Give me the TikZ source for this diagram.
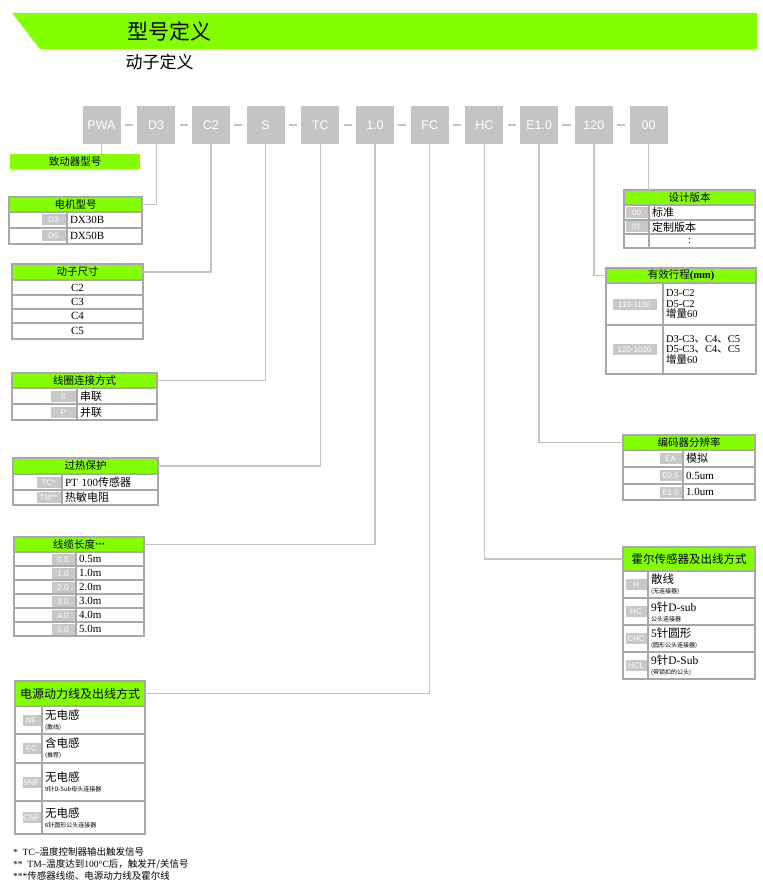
\documentclass[tikz,border=0pt]{standalone}
\usepackage{fontspec}
\setmainfont{Liberation Serif}
\newfontfamily\cjk{Noto Sans CJK SC}
\newfontfamily\tagfont{Liberation Sans}
\usepackage{xcolor}
\usetikzlibrary{positioning}
\definecolor{hdrgreen}{HTML}{84FF00}
\definecolor{codegray}{HTML}{C4C4C4}
\definecolor{taggray}{HTML}{C8C8C8}
\definecolor{cellgray}{HTML}{A8A8A8}
\definecolor{leadgray}{HTML}{C4C4C4}
\newcommand{\zh}[1]{{\cjk #1}}
\newcommand{\codetag}[2][22pt]{{\setlength{\fboxsep}{0pt}\colorbox{taggray}{\makebox[#1]{\rule[-2.5pt]{0pt}{11pt}\tagfont\fontsize{8}{9}\selectfont\color{white}#2}}}}
\tikzset{
  codebox/.style={fill=codegray,minimum width=38pt,minimum height=38pt,inner sep=0pt,outer sep=0pt,text=white,font=\tagfont\fontsize{12.5}{14}\selectfont},
  link/.style={draw=leadgray,line width=1.5pt,shorten <=4.3pt,shorten >=4.3pt},
  lead/.style={draw=leadgray,line width=1.4pt},
  hdr/.style={draw=cellgray,fill=hdrgreen,line width=1.3pt,outer sep=0pt,inner sep=0pt,anchor=north west,font=\cjk\fontsize{10.5}{12}\selectfont},
  cell/.style={draw=cellgray,line width=1.3pt,outer sep=0pt,inner ysep=0pt,anchor=north west},
  codecell/.style={cell,fill=white,inner xsep=1.5pt,align=right},
  txtcell/.style={cell,inner xsep=3pt,align=left,font=\fontsize{11}{11}\selectfont},
  note/.style={anchor=west,inner sep=0pt,font=\fontsize{9.5}{10}\selectfont},
}
\begin{document}
\begin{tikzpicture}[x=1pt,y=-1pt,node distance=16.7pt]
  \useasboundingbox (0,0) rectangle (762,882);
  % title band
  \fill[hdrgreen] (12,13) -- (757,13) -- (757,49) -- (40,49) -- cycle;
  \node[anchor=west,font=\cjk\fontsize{21}{21}\selectfont] (title) at (124,31) {型号定义};
  \node[anchor=west,font=\cjk\fontsize{17}{17}\selectfont] (subtitle) at (122,62) {动子定义};
  % code row
  \node[codebox] (pwa) at (101.5,125) {PWA};
  \node[codebox,right=of pwa] (d3) {D3};
  \node[codebox,right=of d3] (c2) {C2};
  \node[codebox,right=of c2] (s) {S};
  \node[codebox,right=of s] (tc) {TC};
  \node[codebox,right=of tc] (len) {1.0};
  \node[codebox,right=of len] (fc) {FC};
  \node[codebox,right=of fc] (hc) {HC};
  \node[codebox,right=of hc] (enc) {E1.0};
  \node[codebox,right=of enc] (stroke) {120};
  \node[codebox,right=of stroke] (ver) {00};
  \draw[link] (pwa) -- (d3);
  \draw[link] (d3) -- (c2);
  \draw[link] (c2) -- (s);
  \draw[link] (s) -- (tc);
  \draw[link] (tc) -- (len);
  \draw[link] (len) -- (fc);
  \draw[link] (fc) -- (hc);
  \draw[link] (hc) -- (enc);
  \draw[link] (enc) -- (stroke);
  \draw[link] (stroke) -- (ver);
  % left tables
  \node[hdr,draw=none,minimum width=130pt,minimum height=15pt] (actuator) at (10,154) {致动器型号};
  \node[hdr,minimum width=133pt,minimum height=15pt] (motor) at (9,197) {电机型号};
  \node[codecell,text width=55pt,minimum height=16pt] (motorc1) at (motor.south west) {\codetag[24pt]{D3}};
  \node[txtcell,text width=69pt,minimum height=16pt] (motort1) at (motorc1.north east) {DX30B};
  \node[codecell,text width=55pt,minimum height=16pt] (motorc2) at (motorc1.south west) {\codetag[24pt]{D5}};
  \node[txtcell,text width=69pt,minimum height=16pt] (motort2) at (motorc2.north east) {DX50B};
  \node[hdr,minimum width=131pt,minimum height=16pt] (size) at (12,264) {动子尺寸};
  \node[txtcell,text width=125pt,align=center,minimum height=15pt] (size1) at (size.south west) {C2};
  \node[txtcell,text width=125pt,align=center,minimum height=14pt] (size2) at (size1.south west) {C3};
  \node[txtcell,text width=125pt,align=center,minimum height=14pt] (size3) at (size2.south west) {C4};
  \node[txtcell,text width=125pt,align=center,minimum height=16pt] (size4) at (size3.south west) {C5};
  \node[hdr,minimum width=145pt,minimum height=15pt] (coil) at (12,373) {线圈连接方式};
  \node[codecell,text width=62pt,minimum height=16pt] (coilc1) at (coil.south west) {\codetag[25pt]{S}};
  \node[txtcell,text width=74pt,minimum height=16pt] (coilt1) at (coilc1.north east) {\zh{串联}};
  \node[codecell,text width=62pt,minimum height=16pt] (coilc2) at (coilc1.south west) {\codetag[25pt]{P}};
  \node[txtcell,text width=74pt,minimum height=16pt] (coilt2) at (coilc2.north east) {\zh{并联}};
  \node[hdr,minimum width=145pt,minimum height=16pt] (heat) at (13,458) {过热保护};
  \node[codecell,text width=46pt,minimum height=16pt] (heatc1) at (heat.south west) {\codetag[24pt]{TC*}};
  \node[txtcell,text width=90pt,minimum height=16pt] (heatt1) at (heatc1.north east) {PT 100\zh{传感器}};
  \node[codecell,text width=46pt,minimum height=15pt] (heatc2) at (heatc1.south west) {\codetag[24pt]{TM**}};
  \node[txtcell,text width=90pt,minimum height=15pt] (heatt2) at (heatc2.north east) {\zh{热敏电阻}};
  \node[hdr,minimum width=130pt,minimum height=15pt] (cable) at (14,537) {线缆长度{\fontsize{7}{7}\selectfont ***}};
  \node[codecell,text width=59pt,minimum height=14pt] (cablec1) at (cable.south west) {\codetag[23pt]{0.5}};
  \node[txtcell,text width=62pt,minimum height=14pt] (cablet1) at (cablec1.north east) {0.5m};
  \node[codecell,text width=59pt,minimum height=14pt] (cablec2) at (cablec1.south west) {\codetag[23pt]{1.0}};
  \node[txtcell,text width=62pt,minimum height=14pt] (cablet2) at (cablec2.north east) {1.0m};
  \node[codecell,text width=59pt,minimum height=14pt] (cablec3) at (cablec2.south west) {\codetag[23pt]{2.0}};
  \node[txtcell,text width=62pt,minimum height=14pt] (cablet3) at (cablec3.north east) {2.0m};
  \node[codecell,text width=59pt,minimum height=14pt] (cablec4) at (cablec3.south west) {\codetag[23pt]{3.0}};
  \node[txtcell,text width=62pt,minimum height=14pt] (cablet4) at (cablec4.north east) {3.0m};
  \node[codecell,text width=59pt,minimum height=14pt] (cablec5) at (cablec4.south west) {\codetag[23pt]{4.0}};
  \node[txtcell,text width=62pt,minimum height=14pt] (cablet5) at (cablec5.north east) {4.0m};
  \node[codecell,text width=59pt,minimum height=14pt] (cablec6) at (cablec5.south west) {\codetag[23pt]{5.0}};
  \node[txtcell,text width=62pt,minimum height=14pt] (cablet6) at (cablec6.north east) {5.0m};
  \node[hdr,minimum width=130pt,minimum height=25pt,font=\cjk\fontsize{12}{12}\selectfont] (power) at (15,681) {电源动力线及出线方式};
  \node[codecell,text width=24pt,minimum height=28pt] (powerc1) at (power.south west) {\codetag[18pt]{NF}};
  \node[txtcell,text width=97pt,minimum height=28pt,font=\cjk\fontsize{10}{10}\selectfont] (powert1) at (powerc1.north east) {{\fontsize{11.5}{12}\selectfont 无电感}\\{\fontsize{6}{7}\selectfont (散线)}};
  \node[codecell,text width=24pt,minimum height=29pt] (powerc2) at (powerc1.south west) {\codetag[18pt]{FC}};
  \node[txtcell,text width=97pt,minimum height=29pt,font=\cjk\fontsize{10}{10}\selectfont] (powert2) at (powerc2.north east) {{\fontsize{11.5}{12}\selectfont 含电感}\\{\fontsize{6}{7}\selectfont (推荐)}};
  \node[codecell,text width=24pt,minimum height=38pt] (powerc3) at (powerc2.south west) {\codetag[18pt]{9NF}};
  \node[txtcell,text width=97pt,minimum height=38pt,font=\cjk\fontsize{10}{10}\selectfont] (powert3) at (powerc3.north east) {{\fontsize{11.5}{12}\selectfont 无电感}\\{\fontsize{6}{7}\selectfont 9针D-Sub母头连接器}};
  \node[codecell,text width=24pt,minimum height=33pt] (powerc4) at (powerc3.south west) {\codetag[18pt]{CNF}};
  \node[txtcell,text width=97pt,minimum height=33pt,font=\cjk\fontsize{10}{10}\selectfont] (powert4) at (powerc4.north east) {{\fontsize{11.5}{12}\selectfont 无电感}\\{\fontsize{6}{7}\selectfont 6针圆形公头连接器}};
  % right tables
  \node[hdr,minimum width=131pt,minimum height=15pt] (design) at (624,190) {设计版本};
  \node[codecell,text width=22pt,minimum height=15pt] (designc1) at (design.south west) {\codetag[22pt]{00}};
  \node[txtcell,text width=100pt,minimum height=15pt] (designt1) at (designc1.north east) {\zh{标准}};
  \node[codecell,text width=22pt,minimum height=14pt] (designc2) at (designc1.south west) {\codetag[22pt]{01}};
  \node[txtcell,text width=100pt,minimum height=14pt] (designt2) at (designc2.north east) {\zh{定制版本}};
  \node[codecell,text width=22pt,minimum height=14pt] (designc3) at (designc2.south west) {};
  \node[txtcell,text width=100pt,minimum height=14pt] (designt3) at (designc3.north east) {\hspace*{36pt}:};
  \node[hdr,minimum width=150pt,minimum height=15pt] (travel) at (606,268) {有效行程{\rmfamily\bfseries (mm)}};
  \node[codecell,text width=54pt,align=center,minimum height=42pt] (travelc1) at (travel.south west) {\codetag[44pt]{110-1100}};
  \node[txtcell,text width=87pt,minimum height=42pt,font=\fontsize{10.5}{10.5}\selectfont] (travelt1) at (travelc1.north east) {D3-C2\\D5-C2\\\zh{增量}60};
  \node[codecell,text width=54pt,align=center,minimum height=49pt] (travelc2) at (travelc1.south west) {\codetag[44pt]{120-1020}};
  \node[txtcell,text width=87pt,minimum height=49pt,font=\fontsize{10.5}{10.5}\selectfont] (travelt2) at (travelc2.north east) {D3-C3\zh{、}C4\zh{、}C5\\D5-C3\zh{、}C4\zh{、}C5\\\zh{增量}60};
  \node[hdr,minimum width=132pt,minimum height=15pt] (resol) at (623,435) {编码器分辨率};
  \node[codecell,text width=57pt,minimum height=17pt] (resolc1) at (resol.south west) {\codetag[22pt]{EA}};
  \node[txtcell,text width=66pt,minimum height=17pt] (resolt1) at (resolc1.north east) {\zh{模拟}};
  \node[codecell,text width=57pt,minimum height=17pt] (resolc2) at (resolc1.south west) {\codetag[22pt]{E0.5}};
  \node[txtcell,text width=66pt,minimum height=17pt] (resolt2) at (resolc2.north east) {0.5um};
  \node[codecell,text width=57pt,minimum height=16pt] (resolc3) at (resolc2.south west) {\codetag[22pt]{E1.0}};
  \node[txtcell,text width=66pt,minimum height=16pt] (resolt3) at (resolc3.north east) {1.0um};
  \node[hdr,minimum width=132pt,minimum height=24pt,font=\cjk\fontsize{11.5}{12}\selectfont] (hall) at (623,547) {霍尔传感器及出线方式};
  \node[codecell,text width=22pt,minimum height=27pt] (hallc1) at (hall.south west) {\codetag[21pt]{H}};
  \node[txtcell,text width=101pt,minimum height=27pt,font=\fontsize{10}{10}\selectfont] (hallt1) at (hallc1.north east) {{\cjk\fontsize{11.5}{12}\selectfont 散线}\\{\cjk\fontsize{6}{7}\selectfont (无连接器)}};
  \node[codecell,text width=22pt,minimum height=27pt] (hallc2) at (hallc1.south west) {\codetag[21pt]{HC}};
  \node[txtcell,text width=101pt,minimum height=27pt,font=\fontsize{10}{10}\selectfont] (hallt2) at (hallc2.north east) {{\fontsize{11.5}{12}\selectfont 9\zh{针}D-sub}\\{\cjk\fontsize{6}{7}\selectfont 公头连接器}};
  \node[codecell,text width=22pt,minimum height=27pt] (hallc3) at (hallc2.south west) {\codetag[21pt]{CHC}};
  \node[txtcell,text width=101pt,minimum height=27pt,font=\fontsize{10}{10}\selectfont] (hallt3) at (hallc3.north east) {{\fontsize{11.5}{12}\selectfont 5\zh{针圆形}}\\{\cjk\fontsize{6}{7}\selectfont (圆形公头连接器)}};
  \node[codecell,text width=22pt,minimum height=27pt] (hallc4) at (hallc3.south west) {\codetag[21pt]{HCL}};
  \node[txtcell,text width=101pt,minimum height=27pt,font=\fontsize{10}{10}\selectfont] (hallt4) at (hallc4.north east) {{\fontsize{11.5}{12}\selectfont 9\zh{针}D-Sub}\\{\cjk\fontsize{6}{7}\selectfont (带锁扣的公头)}};
  % leads
  \draw[lead] (pwa.south) -- (pwa.south |- actuator.north);
  \draw[lead] (d3.south) |- (motor.east);
  \draw[lead] (c2.south) |- (size.east);
  \draw[lead] (s.south) |- (coil.east);
  \draw[lead] (tc.south) |- (heat.east);
  \draw[lead] (len.south) |- (cable.east);
  \draw[lead] (fc.south) |- (power.east);
  \draw[lead] (hc.south) |- (hall.west);
  \draw[lead] (enc.south) |- (resol.west);
  \draw[lead] (stroke.south) |- (travel.west);
  \draw[lead] (ver.south) -- (ver.south |- design.north);
  % notes
  \node[note] (note1) at (13,852) {*\ \ TC–\zh{温度控制器输出触发信号}};
  \node[note] (note2) at (13,864) {**\ \ TM–\zh{温度达到}100°C\zh{后，触发开/关信号}};
  \node[note] (note3) at (13,876) {***\zh{传感器线缆、电源动力线及霍尔线}};
\end{tikzpicture}
\end{document}
